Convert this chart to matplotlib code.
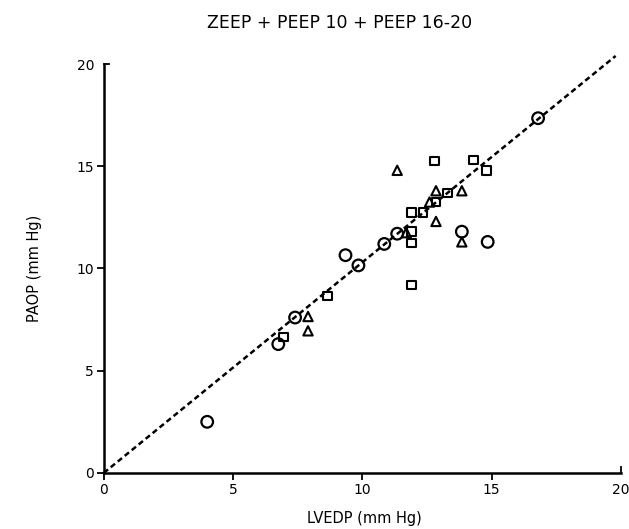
import matplotlib
matplotlib.use("Agg")
import matplotlib.pyplot as plt
import numpy as np

# Data
circle_x = [4.0, 6.75, 7.4, 9.35, 9.85, 10.85, 11.35, 13.85, 14.85, 16.8]
circle_y = [2.5, 6.3, 7.6, 10.65, 10.15, 11.2, 11.7, 11.8, 11.3, 17.35]

square_x = [6.95, 8.65, 11.9, 11.9, 11.9, 11.9, 12.35, 12.85, 13.3, 12.8, 14.3, 14.8]
square_y = [6.65, 8.65, 9.2, 11.25, 11.8, 12.75, 12.75, 13.25, 13.7, 15.25, 15.3, 14.8]

triangle_x = [7.9, 7.9, 11.7, 12.6, 12.85, 13.85, 12.85, 13.85, 11.35]
triangle_y = [7.65, 6.95, 11.75, 13.25, 13.8, 13.8, 12.3, 11.3, 14.8]

fit_x = [0.0, 19.8]
fit_slope = 1.03

ticks = [0, 5, 10, 15, 20]
tick_labels = ["0", "5", "10", "15", "20"]

title = "ZEEP + PEEP 10 + PEEP 16-20"
xlabel = "LVEDP (mm Hg)"
ylabel = "PAOP (mm Hg)"

plt.rcParams['font.family'] = ['DejaVu Sans']
fig = plt.figure(figsize=(6.29, 5.29), dpi=100)
ax = fig.add_axes([0.165, 0.106, 0.822, 0.773])

fx = np.array(fit_x)
ax.plot(fx, fit_slope * fx, linestyle=(0, (2.2, 1.4)), color='black', lw=1.8,
        clip_on=False, zorder=1)

ax.scatter(circle_x, circle_y, marker='o', s=70, facecolors='none',
           edgecolors='black', linewidths=1.6, zorder=3, clip_on=False)
ax.scatter(square_x, square_y, marker='s', s=38, facecolors='none',
           edgecolors='black', linewidths=1.5, zorder=3, clip_on=False)
ax.scatter(triangle_x, triangle_y, marker='^', s=45, facecolors='none',
           edgecolors='black', linewidths=1.5, zorder=3, clip_on=False)

ax.set_xlim(0, 20)
ax.set_ylim(0, 20)
ax.set_xticks(ticks)
ax.set_xticklabels(tick_labels, fontsize=10)
ax.set_yticks(ticks)
ax.set_yticklabels(tick_labels, fontsize=10)

for s in ['top', 'right']:
    ax.spines[s].set_visible(False)
for s in ['left', 'bottom']:
    ax.spines[s].set_linewidth(1.8)
ax.tick_params(axis='both', length=5, width=1.3, direction='out', pad=2)
ax.xaxis.get_major_ticks()[-1].tick1line.set_visible(False)
ax.yaxis.get_major_ticks()[-1].tick1line.set_visible(False)

# end caps: tick at top of y axis pointing right, and at right of x axis pointing up
ax.plot([0, 0.22], [20, 20], color='black', lw=1.3, clip_on=False)
ax.plot([20, 20], [0, 0.3], color='black', lw=1.3, clip_on=False)

fig.text(340 / 629, 1 - 23 / 529, title, fontsize=12.5, ha='center', va='center')
fig.text(0.58, 1 - 518 / 529, xlabel, fontsize=10.5, ha='center', va='center')
fig.text(35 / 629, 1 - 268 / 529, ylabel, fontsize=10.5, ha='center',
         va='center', rotation=90)

fig.savefig("out.png", dpi=100)
